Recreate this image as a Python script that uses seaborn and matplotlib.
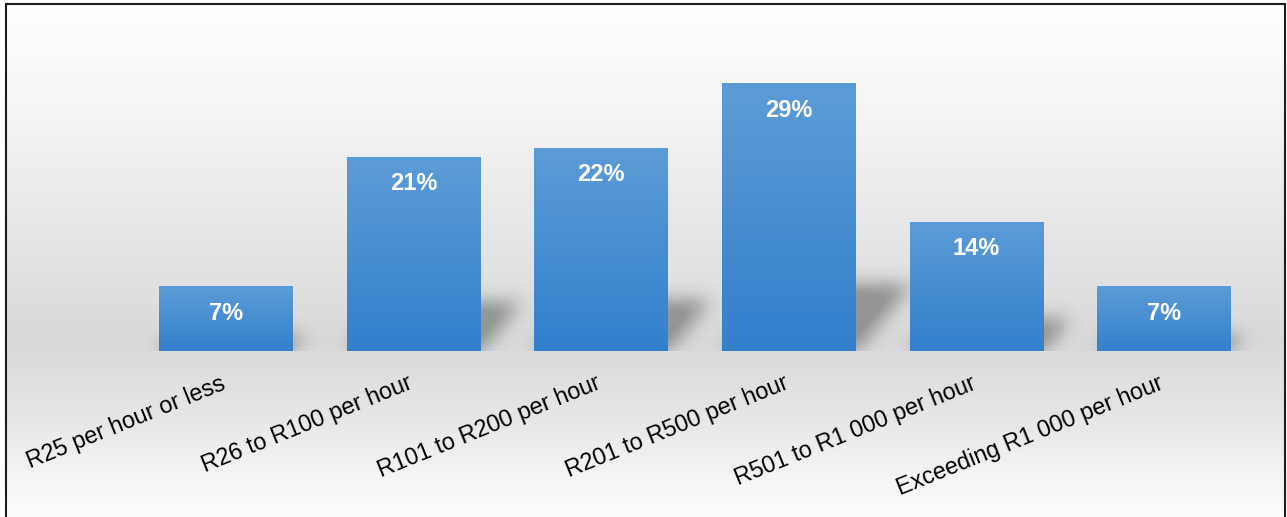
import numpy as np
import pandas as pd
import matplotlib
matplotlib.use("Agg")
import matplotlib.pyplot as plt
import seaborn as sns
from matplotlib.colors import LinearSegmentedColormap
from matplotlib.patches import Rectangle
from matplotlib.transforms import ScaledTranslation

# Hourly rate bands and share of respondents (%)
categories = [
    "R25 per hour or less",
    "R26 to R100 per hour",
    "R101 to R200 per hour",
    "R201 to R500 per hour",
    "R501 to R1 000 per hour",
    "Exceeding R1 000 per hour",
]
shares = [7, 21, 22, 29, 14, 7]
value_labels = ["7%", "21%", "22%", "29%", "14%", "7%"]

sns.set_theme(style="white")
plt.rcParams["font.family"] = ["Liberation Sans", "DejaVu Sans"]

W, H, DPI = 1287, 517, 100
fig = plt.figure(figsize=(W / DPI, H / DPI), dpi=DPI)
fig.patch.set_facecolor("white")

# ---- framed panel with a white -> grey -> white vertical gradient ----
panel_top = 3.5
bg = fig.add_axes([6 / W, 0, (1285 - 6) / W, (H - panel_top) / H])
rows = np.linspace(0, 1, 400)            # 0 = top of panel, 1 = bottom
stops_pos = [0.0, 0.10, 0.66, 0.80, 1.0]
stops_val = [1.00, 0.985, 0.852, 0.90, 0.995]
grey = np.interp(rows, stops_pos, stops_val)
bg.imshow(np.repeat(grey[:, None, None], 3, axis=2), aspect="auto",
          extent=[0, 1, 0, 1], interpolation="bilinear")
bg.set_axis_off()
fig.add_artist(Rectangle((6 / W, -0.02), (1285 - 6) / W, (H - panel_top) / H + 0.02,
                         transform=fig.transFigure, fill=False,
                         edgecolor="#1c1c1c", linewidth=1.5, zorder=10))

# ---- bar chart ----
ax_left, ax_w = 132 / W, 1126 / W
ax_bottom, ax_h = (H - 351) / H, 0.572
ax = fig.add_axes([ax_left, ax_bottom, ax_w, ax_h])
ax.set_facecolor("none")

df = pd.DataFrame({"band": categories, "share": shares})
sns.barplot(data=df, x="band", y="share", ax=ax, width=0.714,
            color="#5B9BD5", saturation=1, zorder=3)

YMAX = 32
ax.set_xlim(-0.5, 5.5)
ax.set_ylim(0, YMAX)

# vertical gradient fill inside every bar
bar_cmap = LinearSegmentedColormap.from_list("bar", ["#3380CC", "#5C9CD6"])
grad = np.linspace(0, 1, 256)[:, None]
for p in ax.patches:
    x0, y0, w, h = p.get_x(), p.get_y(), p.get_width(), p.get_height()
    im = ax.imshow(grad, cmap=bar_cmap, origin="lower", aspect="auto",
                   extent=[x0, x0 + w, y0, y0 + h], zorder=3,
                   interpolation="bilinear")
    im.set_clip_path(p)
    p.set_facecolor("none")
    p.set_edgecolor("none")

# soft perspective shadows cast to the right of each bar
ppx = ax_w * W / 6.0
ppy = ax_h * H / YMAX
nx = int(round(ax_w * W))
y_lo, y_hi = -30, int(round(ax_h * H))
ypx = np.arange(y_lo, y_hi) + 0.5
xpx = np.arange(nx) + 0.5
X, Y = np.meshgrid(xpx, ypx)
mask = np.zeros_like(X)
SKEW, LIFT = 0.85, 0.25
for p in ax.patches:
    x0 = (p.get_x() + 0.5) * ppx
    x1 = x0 + p.get_width() * ppx
    top = LIFT * p.get_height() * ppy
    inside = (Y >= 0) & (Y <= top) & (X >= x0 + SKEW * Y) & (X <= x1 + SKEW * Y)
    mask[inside] = 1.0

sigma = 9.0
k = np.arange(-30, 31)
kern = np.exp(-0.5 * (k / sigma) ** 2)
kern /= kern.sum()
blur = np.apply_along_axis(lambda r: np.convolve(r, kern, mode="same"), 1, mask)
blur = np.apply_along_axis(lambda c: np.convolve(c, kern, mode="same"), 0, blur)
shadow = np.zeros(blur.shape + (4,))
shadow[..., 3] = np.clip(blur * 1.15, 0, 1) * 0.32
ax.imshow(shadow, origin="lower", aspect="auto", interpolation="bilinear",
          extent=[-0.5, 5.5, y_lo / ppy, y_hi / ppy], zorder=2)
ax.set_xlim(-0.5, 5.5)
ax.set_ylim(0, YMAX)

# value labels inside the bars
for i, (v, lab) in enumerate(zip(shares, value_labels)):
    ax.annotate(lab, (i, v), xytext=(0, -27), textcoords="offset pixels",
                ha="center", va="center", color="white", fontweight="bold",
                fontsize=17, zorder=6)

ax.set_xticks(range(len(categories)))
ax.set_xticklabels(categories, rotation=22, ha="right", va="top",
                   rotation_mode="anchor", fontsize=16.8, color="black")
ax.tick_params(axis="x", length=0, pad=15)
shift = ScaledTranslation(-6 / DPI, 0, fig.dpi_scale_trans)
for lbl in ax.get_xticklabels():
    lbl.set_transform(lbl.get_transform() + shift)
ax.set_yticks([])
ax.set_xlabel("")
ax.set_ylabel("")
for s in ax.spines.values():
    s.set_visible(False)

fig.savefig("out.png", dpi=DPI)
